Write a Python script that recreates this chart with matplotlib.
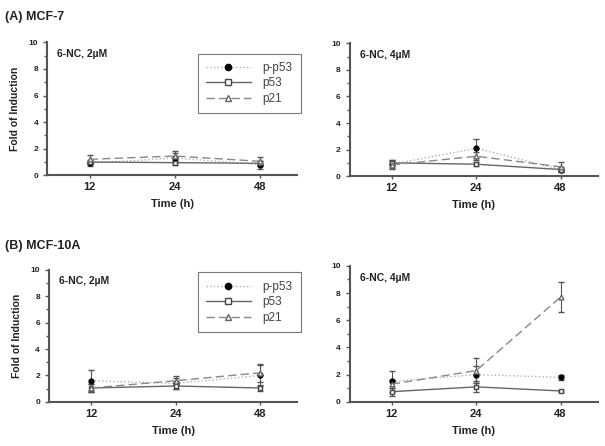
import matplotlib
matplotlib.use('Agg')
import matplotlib.pyplot as plt
from matplotlib.lines import Line2D
from matplotlib.ticker import MultipleLocator

plt.rcParams['font.family'] = ['Liberation Sans', 'DejaVu Sans']

# Time points (categorical)
times = ['12', '24', '48']

# MCF-7, 2 uM
a2_pp53 = [0.9, 1.3, 0.8]
a2_pp53_err = [0.2, 0.4, 0.3]
a2_p53 = [1.0, 0.95, 0.9]
a2_p53_err = [0.15, 0.2, 0.15]
a2_p21 = [1.2, 1.45, 1.05]
a2_p21_err = [0.3, 0.35, 0.35]

# MCF-7, 4 uM
a4_pp53 = [0.9, 2.1, 0.5]
a4_pp53_err = [0.3, 0.7, 0.2]
a4_p53 = [1.0, 0.9, 0.5]
a4_p53_err = [0.2, 0.15, 0.1]
a4_p21 = [0.85, 1.5, 0.7]
a4_p21_err = [0.3, 0.3, 0.4]

# MCF-10A, 2 uM
b2_pp53 = [1.6, 1.4, 2.0]
b2_pp53_err = [0.8, 0.4, 0.8]
b2_p53 = [1.05, 1.2, 1.05]
b2_p53_err = [0.3, 0.25, 0.2]
b2_p21 = [1.05, 1.6, 2.2]
b2_p21_err = [0.3, 0.35, 0.7]

# MCF-10A, 4 uM
b4_pp53 = [1.5, 2.0, 1.8]
b4_pp53_err = [0.8, 0.6, 0.2]
b4_p53 = [0.75, 1.1, 0.8]
b4_p53_err = [0.3, 0.4, 0.1]
b4_p21 = [1.3, 2.3, 7.7]
b4_p21_err = [0.3, 0.9, 1.1]

series_names = ['p-p53', 'p53', 'p21']

# rect, label, data..., legend anchor (None = no legend)
panels = [
    ([0.078, 0.607, 0.413, 0.298], '6-NC, 2\u00b5M', a2_pp53, a2_pp53_err, a2_p53, a2_p53_err, a2_p21, a2_p21_err, 0.915),
    ([0.578, 0.605, 0.41, 0.298], '6-NC, 4\u00b5M', a4_pp53, a4_pp53_err, a4_p53, a4_p53_err, a4_p21, a4_p21_err, None),
    ([0.081, 0.099, 0.41, 0.296], '6-NC, 2\u00b5M', b2_pp53, b2_pp53_err, b2_p53, b2_p53_err, b2_p21, b2_p21_err, 0.98),
    ([0.578, 0.099, 0.41, 0.305], '6-NC, 4\u00b5M', b4_pp53, b4_pp53_err, b4_p53, b4_p53_err, b4_p21, b4_p21_err, None),
]

# line styles for p-p53, p53, p21
styles = [
    dict(color='#b0b0b0', ls=':', marker='o', mfc='black', mec='black'),
    dict(color='#666666', ls='-', marker='s', mfc='white', mec='#444444'),
    dict(color='#888888', ls=(0, (6, 3)), marker='^', mfc='white', mec='#666666'),
]

fig = plt.figure(figsize=(6.05, 4.46), dpi=100)
x = [1, 2, 3]
spine_col = '#555555'

for rect, label, pp53, pp53_e, p53, p53_e, p21, p21_e, leg_y in panels:
    ax = fig.add_axes(rect)
    for vals, errs, st in zip([pp53, p53, p21], [pp53_e, p53_e, p21_e], styles):
        ax.errorbar(x, vals, yerr=errs, lw=1, ms=3.5, ecolor='#555555', elinewidth=0.8,
                    capsize=2, **st)
    ax.set_xlim(0.5, 3.44)
    ax.set_ylim(0, 10)
    ax.set_xticks(x)
    ax.set_xticklabels(times, fontsize=8, fontweight='bold', color='#222222')
    ax.yaxis.set_major_locator(MultipleLocator(2))
    ax.yaxis.set_minor_locator(MultipleLocator(1))
    ax.tick_params(axis='y', labelsize=6, length=3, width=1, colors=spine_col, labelcolor='#222222')
    ax.tick_params(axis='y', which='minor', length=2, width=1, colors=spine_col)
    ax.tick_params(axis='x', length=2, width=1, colors=spine_col, labelcolor='#222222', pad=3)
    for lab in ax.get_yticklabels():
        lab.set_fontweight('bold')
    ax.spines['top'].set_visible(False)
    ax.spines['right'].set_visible(False)
    ax.spines['left'].set_linewidth(1.5)
    ax.spines['bottom'].set_linewidth(1.5)
    ax.spines['left'].set_color(spine_col)
    ax.spines['bottom'].set_color(spine_col)
    ax.text(0.04, 0.95, label, transform=ax.transAxes, fontsize=7.5, fontweight='bold',
            va='top', ha='left', color='#222222')
    ax.set_xlabel('Time (h)', fontsize=8, fontweight='bold', color='#222222', labelpad=5)
    if leg_y is not None:
        ax.set_ylabel('Fold of Induction', fontsize=7.5, fontweight='bold', color='#222222', labelpad=6)
        handles = [Line2D([], [], lw=1, ms=4.5, **st) for st in styles]
        leg = ax.legend(handles, series_names, loc='upper right', bbox_to_anchor=(1.015, leg_y),
                        fontsize=8.5, frameon=True, fancybox=False, edgecolor='#555555',
                        handlelength=3.8, borderpad=0.7, labelspacing=0.3, handletextpad=1.0,
                        borderaxespad=0)
        leg.get_frame().set_linewidth(0.8)
        for t in leg.get_texts():
            t.set_color('#444444')

fig.text(0.008, 0.975, '(A) MCF-7', fontsize=9, fontweight='bold', va='top', color='#222222')
fig.text(0.008, 0.462, '(B) MCF-10A', fontsize=9, fontweight='bold', va='top', color='#222222')

fig.savefig('out.png', dpi=100)
